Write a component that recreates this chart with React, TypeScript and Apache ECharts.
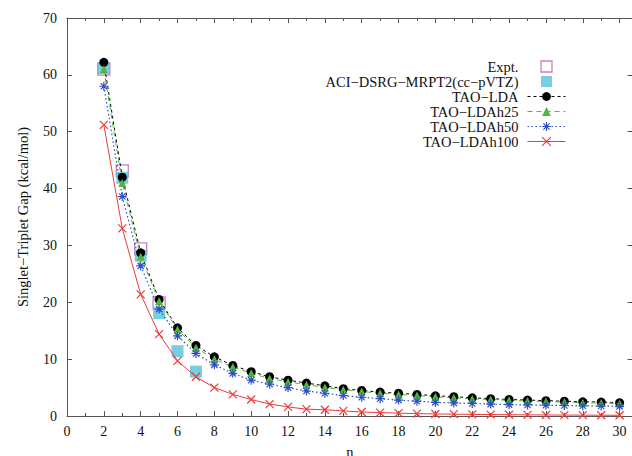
import React, { useEffect, useRef } from "react";
import * as echarts from "echarts";

const nValues = [2, 3, 4, 5, 6, 7, 8, 9, 10, 11, 12, 13, 14, 15, 16, 17, 18, 19, 20, 21, 22, 23, 24, 25, 26, 27, 28, 29, 30];
const exptN = [2, 3, 4, 5];
const exptValues = [61.0, 43.1, 29.4, 19.9];
const aciN = [2, 3, 4, 5, 6, 7];
const aciValues = [61.2, 41.9, 28.2, 18.1, 11.4, 7.8];
const ldaValues = [62.2, 42.0, 28.7, 20.5, 15.5, 12.4, 10.4, 8.9, 7.8, 6.9, 6.3, 5.8, 5.3, 4.8, 4.5, 4.2, 4.0, 3.8, 3.55, 3.4, 3.2, 3.05, 2.9, 2.8, 2.7, 2.6, 2.5, 2.45, 2.35];
const h25Values = [61.0, 41.0, 28.0, 20.2, 15.2, 12.0, 10.0, 8.6, 7.5, 6.6, 6.0, 5.5, 5.0, 4.6, 4.3, 4.0, 3.8, 3.6, 3.4, 3.2, 3.0, 2.9, 2.75, 2.65, 2.55, 2.45, 2.35, 2.3, 2.2];
const h50Values = [58.0, 38.6, 26.4, 18.8, 14.1, 11.0, 9.0, 7.5, 6.3, 5.6, 5.0, 4.4, 4.0, 3.6, 3.3, 3.05, 2.8, 2.6, 2.4, 2.3, 2.2, 2.1, 2.0, 1.95, 1.9, 1.85, 1.8, 1.75, 1.7];
const h100Values = [51.2, 33.0, 21.4, 14.4, 9.7, 6.9, 5.0, 3.8, 2.9, 2.1, 1.6, 1.2, 1.1, 0.9, 0.7, 0.6, 0.5, 0.42, 0.36, 0.32, 0.28, 0.25, 0.22, 0.2, 0.18, 0.16, 0.15, 0.14, 0.13];

const seriesNames = [
  "Expt.",
  "ACI\u2212DSRG\u2212MRPT2(cc\u2212pVTZ)",
  "TAO\u2212LDA",
  "TAO\u2212LDAh25",
  "TAO\u2212LDAh50",
  "TAO\u2212LDAh100",
];
const xAxisTitle = "n";
const yAxisTitle = "Singlet\u2212Triplet Gap (kcal/mol)";

const FONT = "'Liberation Serif', 'Times New Roman', serif";
const AXIS_COLOR = "#555";
const TEXT_COLOR = "#111";

const SQUARE = "path://M0 0H10V10H0Z";
const CROSS = "path://M0 0L10 10M10 0L0 10";
const ASTER = "path://M5 0L5 10M0 5L10 5M1.5 1.5L8.5 8.5M8.5 1.5L1.5 8.5";

const pairs = (xs: number[], ys: number[]) => xs.map((x, i) => [x, ys[i]]);

export default function App() {
  const ref = useRef<HTMLDivElement>(null);
  useEffect(() => {
    if (!ref.current) return;
    const chart = echarts.init(ref.current, undefined, { renderer: "svg" });
    const xMax = 30.7;
    const gridLeft = 67;
    const gridTop = 18;
    const gridW = 565.5;
    const gridH = 398;

    const tickAxisCommon = {
      type: "value" as const,
      min: 0,
      max: xMax,
      splitLine: { show: false },
    };

    chart.setOption({
      animation: false,
      backgroundColor: "#fff",
      grid: { left: gridLeft, top: gridTop, width: gridW, height: gridH, containLabel: false, outerBoundsMode: "none" },
      xAxis: [
        {
          ...tickAxisCommon,
          position: "bottom",
          interval: 2,
          name: xAxisTitle,
          nameLocation: "middle",
          nameGap: 28,
          nameTextStyle: { fontFamily: FONT, fontSize: 14.5, color: TEXT_COLOR },
          axisLine: { show: true, onZero: false, lineStyle: { color: AXIS_COLOR, width: 1 } },
          axisTick: { show: true, inside: true, length: 5, lineStyle: { color: AXIS_COLOR } },
          axisLabel: {
            margin: 8,
            fontFamily: FONT,
            fontSize: 14,
            color: TEXT_COLOR,
            formatter: (v: number) => (Math.abs(v - Math.round(v)) < 1e-6 && Math.round(v) % 2 === 0 ? String(Math.round(v)) : ""),
          },
        },
        {
          ...tickAxisCommon,
          position: "top",
          interval: 2,
          axisLine: { show: true, onZero: false, lineStyle: { color: AXIS_COLOR, width: 1 } },
          axisTick: { show: true, inside: true, length: 5, lineStyle: { color: AXIS_COLOR } },
          axisLabel: { show: false },
        },
        {
          ...tickAxisCommon,
          position: "bottom",
          interval: 1,
          axisLine: { show: false, onZero: false },
          axisTick: { show: true, inside: true, length: 3, lineStyle: { color: AXIS_COLOR } },
          axisLabel: { show: false },
        },
        {
          ...tickAxisCommon,
          position: "top",
          interval: 1,
          axisLine: { show: false, onZero: false },
          axisTick: { show: true, inside: true, length: 3, lineStyle: { color: AXIS_COLOR } },
          axisLabel: { show: false },
        },
      ],
      yAxis: [
        {
          type: "value",
          min: 0,
          max: 70,
          interval: 10,
          position: "left",
          name: yAxisTitle,
          nameLocation: "middle",
          nameGap: 37,
          nameRotate: 90,
          nameTextStyle: { fontFamily: FONT, fontSize: 14.5, color: TEXT_COLOR },
          splitLine: { show: false },
          axisLine: { show: true, onZero: false, lineStyle: { color: AXIS_COLOR, width: 1 } },
          axisTick: { show: true, inside: true, length: 5, lineStyle: { color: AXIS_COLOR } },
          axisLabel: { margin: 10, fontFamily: FONT, fontSize: 14, color: TEXT_COLOR },
        },
        {
          type: "value",
          min: 0,
          max: 70,
          interval: 10,
          position: "right",
          splitLine: { show: false },
          axisLine: { show: true, onZero: false, lineStyle: { color: AXIS_COLOR, width: 1 } },
          axisTick: { show: true, inside: true, length: 5, lineStyle: { color: AXIS_COLOR } },
          axisLabel: { show: false },
        },
      ],
      legend: {
        orient: "vertical",
        right: 66,
        top: 59,
        align: "right",
        itemWidth: 38,
        itemHeight: 11,
        itemGap: 0,
        padding: 0,
        selectedMode: false,
        itemStyle: { borderWidth: 0 },
        lineStyle: { width: 1 },
        textStyle: { fontFamily: FONT, fontSize: 14.5, color: TEXT_COLOR, lineHeight: 14.7, padding: [0, 4, 0, 0] },
        data: [
          { name: seriesNames[0], itemStyle: { borderWidth: 1.3 } },
          { name: seriesNames[1] },
          { name: seriesNames[2] },
          { name: seriesNames[3] },
          { name: seriesNames[4], itemStyle: { borderWidth: 1.2 } },
          { name: seriesNames[5], itemStyle: { borderWidth: 1.2 } },
        ],
      },
      series: [
        {
          name: seriesNames[0],
          type: "scatter",
          xAxisIndex: 0,
          yAxisIndex: 0,
          symbol: SQUARE,
          symbolSize: 12,
          itemStyle: { color: "rgba(255,255,255,0)", borderColor: "#b860b0", borderWidth: 1.3 },
          data: pairs(exptN, exptValues),
        },
        {
          name: seriesNames[1],
          type: "scatter",
          xAxisIndex: 0,
          yAxisIndex: 0,
          symbol: SQUARE,
          symbolSize: 12,
          itemStyle: { color: "#52c3da", borderWidth: 0 },
          data: pairs(aciN, aciValues),
        },
        {
          name: seriesNames[2],
          type: "line",
          xAxisIndex: 0,
          yAxisIndex: 0,
          symbol: "circle",
          symbolSize: 9,
          showAllSymbol: true,
          itemStyle: { color: "#000", borderWidth: 0 },
          lineStyle: { color: "#000", width: 1, type: [3, 3] },
          data: pairs(nValues, ldaValues),
        },
        {
          name: seriesNames[3],
          type: "line",
          xAxisIndex: 0,
          yAxisIndex: 0,
          symbol: "triangle",
          symbolSize: 8,
          showAllSymbol: true,
          itemStyle: { color: "#4fb83a", borderWidth: 0 },
          lineStyle: { color: "#4fb83a", width: 1, type: [5, 4] },
          data: pairs(nValues, h25Values),
        },
        {
          name: seriesNames[4],
          type: "line",
          xAxisIndex: 0,
          yAxisIndex: 0,
          symbol: ASTER,
          symbolSize: 9,
          showAllSymbol: true,
          itemStyle: { color: "#2f4fc0", borderColor: "#2f4fc0", borderWidth: 1.2 },
          lineStyle: { color: "#2f4fc0", width: 1.2, type: [1.5, 2.5] },
          data: pairs(nValues, h50Values),
        },
        {
          name: seriesNames[5],
          type: "line",
          xAxisIndex: 0,
          yAxisIndex: 0,
          symbol: CROSS,
          symbolSize: 8,
          showAllSymbol: true,
          itemStyle: { color: "#f03a3a", borderColor: "#f03a3a", borderWidth: 1.2 },
          lineStyle: { color: "#f03a3a", width: 1, type: "solid" },
          data: pairs(nValues, h100Values),
        },
      ],
    });
    return () => chart.dispose();
  }, []);
  return <div ref={ref} style={{ position: "fixed", left: 0, top: 0, width: 632, height: 456 }} />;
}
